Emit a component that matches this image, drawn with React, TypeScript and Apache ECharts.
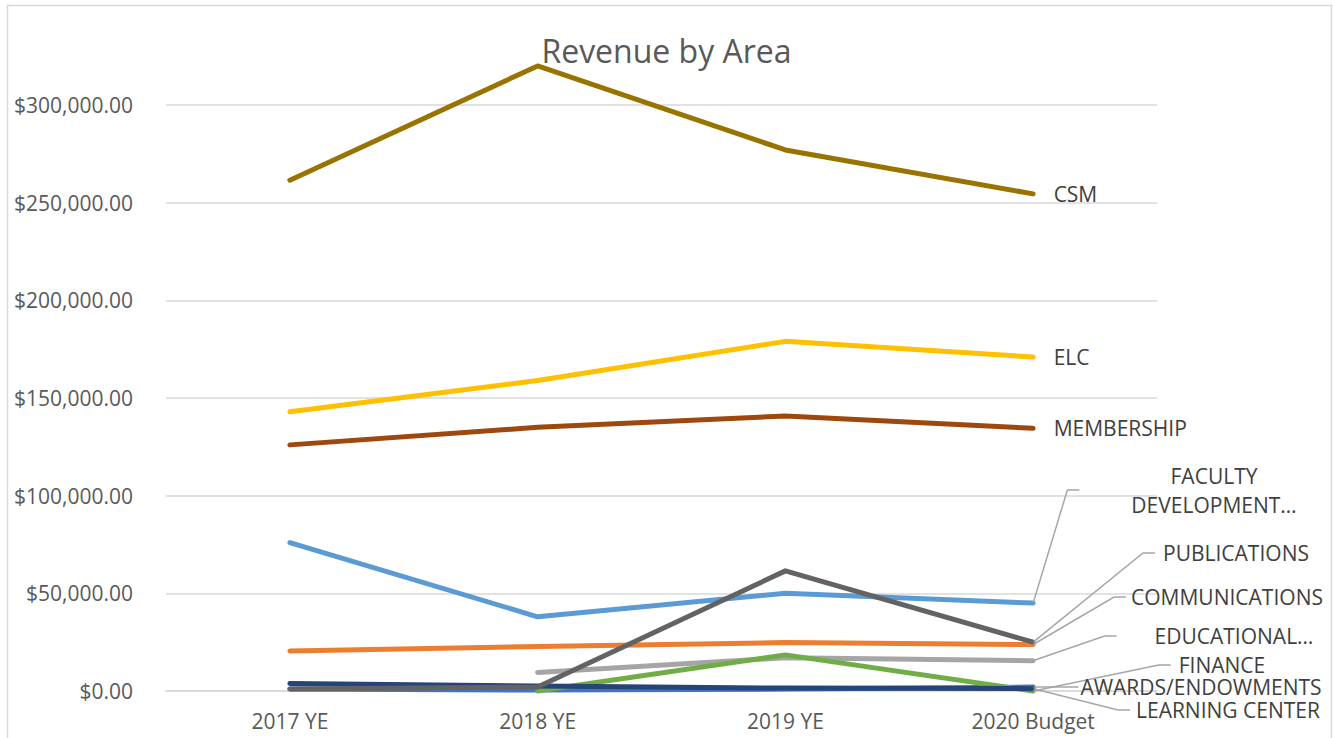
import React, { useEffect, useRef } from "react";
import * as echarts from "echarts";

const categories = ["2017 YE", "2018 YE", "2019 YE", "2020 Budget"];

const seriesNames = [
  "AWARDS/ENDOWMENTS",
  "COMMUNICATIONS",
  "EDUCATIONAL…",
  "ELC",
  "FACULTY DEVELOPMENT…",
  "FINANCE",
  "LEARNING CENTER",
  "MEMBERSHIP",
  "PUBLICATIONS",
  "CSM",
];

const awards = [1000, 500, 1000, 2000];
const communications = [20500, 22800, 24800, 23800];
const educational = [null, 9500, 17000, 15500];
const elc = [143000, 159000, 179000, 171000];
const faculty = [76000, 38000, 50000, 45000];
const finance = [null, 0, 18500, 0];
const learningCenter = [3800, 2500, 1500, 1200];
const membership = [126000, 135000, 140800, 134500];
const publications = [1000, 2000, 61500, 25000];
const csm = [261500, 320000, 277000, 254500];

const seriesValues = [
  awards,
  communications,
  educational,
  elc,
  faculty,
  finance,
  learningCenter,
  membership,
  publications,
  csm,
];

const colors = [
  "#4472C4",
  "#ED7D31",
  "#A5A5A5",
  "#FFC000",
  "#5B9BD5",
  "#70AD47",
  "#264478",
  "#9E480E",
  "#636363",
  "#997300",
];

const yTicks = { min: 0, max: 300000, interval: 50000 };

const FONT = "Open Sans";
const FS = 21;

// label placement (layout only): text centre and horizontal padding before text
const labelPlacement: Record<string, any> = {
  "FACULTY DEVELOPMENT…": { text: "FACULTY\nDEVELOPMENT…", x: 1214, y: 490, pad: 52, lh: 29 },
  PUBLICATIONS: { text: "PUBLICATIONS", x: 1236, y: 553, pad: 8, lh: 20 },
  COMMUNICATIONS: { text: "COMMUNICATIONS", x: 1227, y: 597, pad: 5, lh: 20 },
  "EDUCATIONAL…": { text: "EDUCATIONAL…", x: 1234, y: 636, pad: 38, lh: 20 },
  FINANCE: { text: "FINANCE", x: 1222, y: 665, pad: 8, lh: 20 },
  "AWARDS/ENDOWMENTS": { text: "AWARDS/ENDOWMENTS", x: 1201, y: 687, pad: 2, lh: 20 },
  "LEARNING CENTER": { text: "LEARNING CENTER", x: 1228, y: 710, pad: 6, lh: 20 },
};

function fmtMoney(v: number) {
  const s = v.toFixed(2);
  const [i, d] = s.split(".");
  return "$" + i.replace(/\B(?=(\d{3})+(?!\d))/g, ",") + "." + d;
}

export default function App() {
  const ref = useRef<HTMLDivElement>(null);
  useEffect(() => {
    if (!ref.current) return;
    const chart = echarts.init(ref.current, undefined, { renderer: "svg" });
    const series = seriesNames.map((name, si) => {
      const vals = seriesValues[si];
      const place = labelPlacement[name];
      const data = vals.map((v, i) =>
        i === vals.length - 1
          ? {
              value: v,
              label: {
                show: true,
                formatter: place ? place.text : name,
                position: "right",
                distance: 20,
                align: place ? "center" : "left",
                verticalAlign: "middle",
                lineHeight: place ? place.lh : 20,
                padding: place ? [0, place.pad] : 0,
              },
            }
          : v
      );
      const s: any = {
        name,
        type: "line",
        data,
        clip: false,
        showSymbol: true,
        symbol: "circle",
        symbolSize: 1,
        lineStyle: { width: 5, color: colors[si], cap: "round", join: "round" },
        itemStyle: { color: colors[si] },
        label: {
          show: false,
          color: "#404040",
          fontSize: FS,
          fontFamily: FONT,
        },
        emphasis: { disabled: true },
      };
      if (place) {
        s.labelLine = {
          show: true,
          length2: 12,
          lineStyle: { color: "#A6A6A6", width: 1.5 },
        };
        s.labelLayout = () => ({
          x: place.x,
          y: place.y,
          align: "center",
          verticalAlign: "middle",
        });
      }
      return s;
    });

    chart.setOption({
      animation: false,
      backgroundColor: "#FFFFFF",
      title: {
        text: "Revenue by Area",
        left: "center",
        top: 29,
        textStyle: { color: "#595959", fontSize: 32, fontWeight: "normal", fontFamily: FONT },
      },
      grid: { left: 166, right: 176, top: 105, bottom: 47, containLabel: false },
      xAxis: {
        type: "category",
        data: categories,
        boundaryGap: true,
        axisLine: { show: true, lineStyle: { color: "#D9D9D9", width: 1.5 } },
        axisTick: { show: false },
        axisLabel: { color: "#595959", fontSize: FS, fontFamily: FONT, margin: 19 },
      },
      yAxis: {
        type: "value",
        min: yTicks.min,
        max: yTicks.max,
        interval: yTicks.interval,
        axisLine: { show: false },
        axisTick: { show: false },
        splitLine: { lineStyle: { color: "#D9D9D9", width: 1.5 } },
        axisLabel: { color: "#595959", fontSize: FS, fontFamily: FONT, margin: 33, formatter: (v: number) => fmtMoney(v) },
      },
      graphic: [
        {
          type: "rect",
          silent: true,
          shape: { x: 7.5, y: 5.5, width: 1324, height: 800 },
          style: { fill: "none", stroke: "#D9D9D9", lineWidth: 1.5 },
        },
      ],
      series,
    });
    return () => chart.dispose();
  }, []);
  return (
    <div
      ref={ref}
      style={{ position: "absolute", left: 0, top: 0, width: 1333, height: 738 }}
    />
  );
}
